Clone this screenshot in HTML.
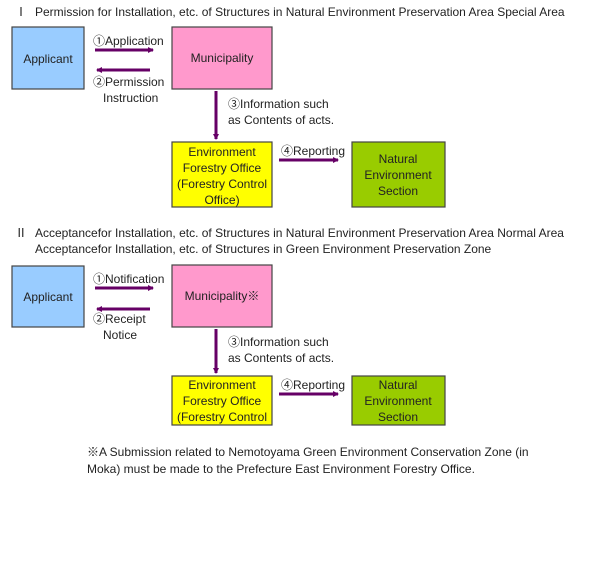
<!DOCTYPE html>
<html><head><meta charset="utf-8"><style>
html,body{margin:0;padding:0;background:#fff;width:600px;height:567px;overflow:hidden}
svg text{font-family:"Liberation Sans","Noto Sans CJK JP",sans-serif;font-size:12px;fill:#222}
</style></head><body>
<svg width="600" height="567" viewBox="0 0 600 567" xmlns="http://www.w3.org/2000/svg">
<defs><marker id="a" markerWidth="6" markerHeight="6" refX="5" refY="3" orient="auto" markerUnits="userSpaceOnUse"><path d="M0,0 L6,3 L0,6 z" fill="#660066"/></marker></defs>
<g stroke="#444" stroke-width="1.2">
<rect x="12" y="27" width="72" height="62" fill="#99ccff"/>
<rect x="172" y="27" width="100" height="62" fill="#ff99cc"/>
<rect x="172" y="142" width="100" height="65" fill="#ffff00"/>
<rect x="352" y="142" width="93" height="65" fill="#99cc00"/>
<rect x="12" y="266" width="72" height="61" fill="#99ccff"/>
<rect x="172" y="265" width="100" height="62" fill="#ff99cc"/>
<rect x="172" y="376" width="100" height="49" fill="#ffff00"/>
<rect x="352" y="376" width="93" height="49" fill="#99cc00"/>
</g>
<g stroke="#660066" stroke-width="3" marker-end="url(#a)">
<line x1="95" y1="50" x2="153" y2="50"/>
<line x1="150" y1="70" x2="97" y2="70"/>
<line x1="216" y1="91" x2="216" y2="139"/>
<line x1="279" y1="160" x2="338" y2="160"/>
<line x1="95" y1="288" x2="153" y2="288"/>
<line x1="150" y1="309" x2="97" y2="309"/>
<line x1="216" y1="329" x2="216" y2="373"/>
<line x1="279" y1="394" x2="338" y2="394"/>
</g>
<text x="15" y="16">Ⅰ</text>
<text x="35" y="16">Permission for Installation, etc. of Structures in Natural Environment Preservation Area Special Area</text>
<text x="48" y="63" text-anchor="middle">Applicant</text>
<text x="222" y="62" text-anchor="middle" font-size="11">Municipality</text>
<text x="93" y="45">①Application</text>
<text x="93" y="86">②Permission</text>
<text x="103" y="102">Instruction</text>
<text x="228" y="108">③Information such</text>
<text x="228" y="124">as Contents of acts.</text>
<text x="222" y="156" text-anchor="middle">Environment</text>
<text x="222" y="172" text-anchor="middle">Forestry Office</text>
<text x="222" y="188" text-anchor="middle">(Forestry Control</text>
<text x="222" y="204" text-anchor="middle">Office)</text>
<text x="281" y="155">④Reporting</text>
<text x="398" y="163" text-anchor="middle">Natural</text>
<text x="398" y="179" text-anchor="middle">Environment</text>
<text x="398" y="195" text-anchor="middle">Section</text>
<text x="15" y="237">Ⅱ</text>
<text x="35" y="237">Acceptancefor Installation, etc. of Structures in Natural Environment Preservation Area Normal Area</text>
<text x="35" y="253">Acceptancefor Installation, etc. of Structures in Green Environment Preservation Zone</text>
<text x="48" y="301" text-anchor="middle">Applicant</text>
<text x="222" y="300" text-anchor="middle" font-size="11">Municipality※</text>
<text x="93" y="283">①Notification</text>
<text x="93" y="323">②Receipt</text>
<text x="103" y="339">Notice</text>
<text x="228" y="346">③Information such</text>
<text x="228" y="362">as Contents of acts.</text>
<text x="222" y="389" text-anchor="middle">Environment</text>
<text x="222" y="405" text-anchor="middle">Forestry Office</text>
<text x="222" y="421" text-anchor="middle">(Forestry Control</text>
<text x="281" y="389">④Reporting</text>
<text x="398" y="389" text-anchor="middle">Natural</text>
<text x="398" y="405" text-anchor="middle">Environment</text>
<text x="398" y="421" text-anchor="middle">Section</text>
<text x="87" y="456" font-size="11">※A Submission related to Nemotoyama Green Environment Conservation Zone (in</text>
<text x="87" y="473" font-size="11">Moka) must be made to the Prefecture East Environment Forestry Office.</text>
</svg>
</body></html>
